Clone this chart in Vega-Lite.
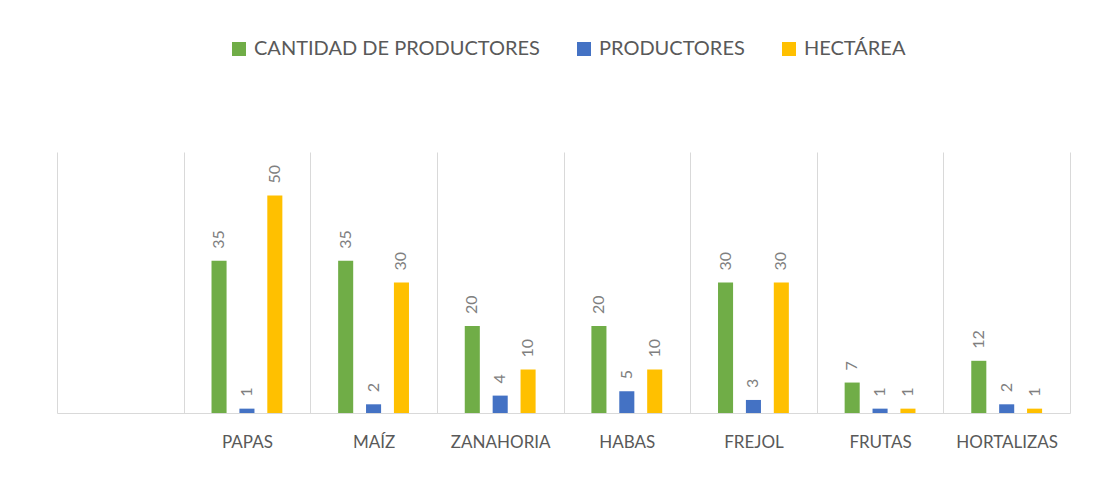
{
  "$schema": "https://vega.github.io/schema/vega-lite/v6.json",
  "autosize": {"type": "none"},
  "width": 1013,
  "height": 261,
  "padding": {"left": 57, "top": 152, "right": 33, "bottom": 64},
  "background": "white",
  "config": {
    "font": "Lato",
    "view": {"stroke": null}
  },
  "data": {
    "values": [
      {"cultivo": "PAPAS", "serie": "CANTIDAD DE PRODUCTORES", "valor": 35},
      {"cultivo": "PAPAS", "serie": "PRODUCTORES", "valor": 1},
      {"cultivo": "PAPAS", "serie": "HECTÁREA", "valor": 50},
      {"cultivo": "MAÍZ", "serie": "CANTIDAD DE PRODUCTORES", "valor": 35},
      {"cultivo": "MAÍZ", "serie": "PRODUCTORES", "valor": 2},
      {"cultivo": "MAÍZ", "serie": "HECTÁREA", "valor": 30},
      {"cultivo": "ZANAHORIA", "serie": "CANTIDAD DE PRODUCTORES", "valor": 20},
      {"cultivo": "ZANAHORIA", "serie": "PRODUCTORES", "valor": 4},
      {"cultivo": "ZANAHORIA", "serie": "HECTÁREA", "valor": 10},
      {"cultivo": "HABAS", "serie": "CANTIDAD DE PRODUCTORES", "valor": 20},
      {"cultivo": "HABAS", "serie": "PRODUCTORES", "valor": 5},
      {"cultivo": "HABAS", "serie": "HECTÁREA", "valor": 10},
      {"cultivo": "FREJOL", "serie": "CANTIDAD DE PRODUCTORES", "valor": 30},
      {"cultivo": "FREJOL", "serie": "PRODUCTORES", "valor": 3},
      {"cultivo": "FREJOL", "serie": "HECTÁREA", "valor": 30},
      {"cultivo": "FRUTAS", "serie": "CANTIDAD DE PRODUCTORES", "valor": 7},
      {"cultivo": "FRUTAS", "serie": "PRODUCTORES", "valor": 1},
      {"cultivo": "FRUTAS", "serie": "HECTÁREA", "valor": 1},
      {"cultivo": "HORTALIZAS", "serie": "CANTIDAD DE PRODUCTORES", "valor": 12},
      {"cultivo": "HORTALIZAS", "serie": "PRODUCTORES", "valor": 2},
      {"cultivo": "HORTALIZAS", "serie": "HECTÁREA", "valor": 1}
    ]
  },
  "encoding": {
    "x": {
      "field": "cultivo",
      "type": "nominal",
      "scale": {
        "domain": ["", "PAPAS", "MAÍZ", "ZANAHORIA", "HABAS", "FREJOL", "FRUTAS", "HORTALIZAS"],
        "paddingInner": 0,
        "paddingOuter": 0
      },
      "axis": {
        "title": null,
        "labelAngle": 0,
        "grid": true,
        "gridColor": "#d9d9d9",
        "tickBand": "extent",
        "ticks": false,
        "domainColor": "#d9d9d9",
        "labelColor": "#595959",
        "labelFontSize": 17,
        "labelPadding": 21
      }
    },
    "xOffset": {
      "field": "serie",
      "type": "nominal",
      "sort": ["CANTIDAD DE PRODUCTORES", "PRODUCTORES", "HECTÁREA"],
      "scale": {"paddingInner": 0.46, "paddingOuter": 1.16}
    },
    "y": {
      "field": "valor",
      "type": "quantitative",
      "scale": {"domain": [0, 60]},
      "axis": null
    }
  },
  "layer": [
    {
      "mark": {"type": "bar"},
      "encoding": {
        "color": {
          "field": "serie",
          "type": "nominal",
          "sort": ["CANTIDAD DE PRODUCTORES", "PRODUCTORES", "HECTÁREA"],
          "scale": {
            "domain": ["CANTIDAD DE PRODUCTORES", "PRODUCTORES", "HECTÁREA"],
            "range": ["#70AD47", "#4472C4", "#FFC000"]
          },
          "legend": {
            "title": null,
            "orient": "none",
            "direction": "horizontal",
            "legendX": 172,
            "legendY": -113,
            "symbolType": "square",
            "symbolSize": 196,
            "symbolStrokeWidth": 0,
            "labelFontSize": 20,
            "labelColor": "#595959",
            "columnPadding": 34,
            "labelOffset": 5,
            "labelLimit": 400
          }
        }
      }
    },
    {
      "mark": {
        "type": "text",
        "angle": -90,
        "align": "left",
        "baseline": "middle",
        "dx": 12,
        "fontSize": 16,
        "color": "#7f7f7f"
      },
      "encoding": {
        "text": {"field": "valor", "type": "quantitative"}
      }
    }
  ]
}
